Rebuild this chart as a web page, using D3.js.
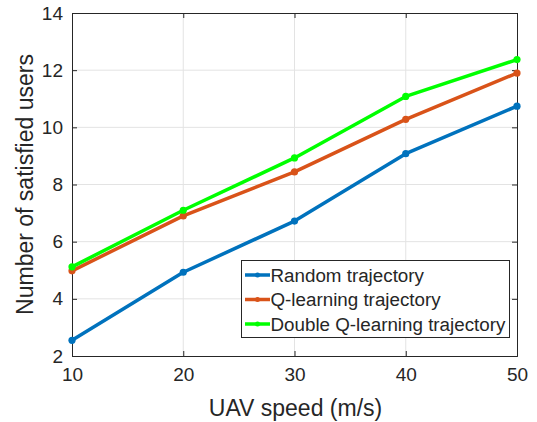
<!DOCTYPE html>
<html><head><meta charset="utf-8">
<script src="https://cdn.jsdelivr.net/npm/d3@7"></script>
<style>body{margin:0;background:#fff}svg{display:block}text{font-family:"Liberation Sans",Arial,Helvetica,sans-serif;fill:#262626}</style>
</head><body>
<svg id="c" width="537" height="422"></svg>
<script>
const speeds = [10, 20, 30, 40, 50];
const randomVals = [2.55, 4.93, 6.72, 9.08, 10.74];
const qVals = [4.98, 6.90, 8.44, 10.28, 11.90];
const dqVals = [5.12, 7.10, 8.93, 11.08, 12.37];
const seriesNames = ["Random trajectory", "Q-learning trajectory", "Double Q-learning trajectory"];
const seriesColors = ["#0072BD", "#D95319", "#00FF00"];
const xTicks = [10, 20, 30, 40, 50];
const yTicks = [2, 4, 6, 8, 10, 12, 14];

const svg = d3.select("#c");
const L = 72, R = 517, T = 13, B = 356;
const x = d3.scaleLinear().domain([10, 50]).range([L, R]);
const y = d3.scaleLinear().domain([2, 14]).range([B, T]);

// grid
const g = svg.append("g");
g.selectAll(".gx").data(xTicks.slice(1, -1)).enter().append("line")
  .attr("x1", d => x(d)).attr("x2", d => x(d)).attr("y1", T).attr("y2", B)
  .attr("stroke", "#e3e3e3").attr("stroke-width", 1);
g.selectAll(".gy").data(yTicks.slice(1, -1)).enter().append("line")
  .attr("y1", d => y(d)).attr("y2", d => y(d)).attr("x1", L).attr("x2", R)
  .attr("stroke", "#e3e3e3").attr("stroke-width", 1);

// axes
const ax = svg.append("g").attr("transform", `translate(0,${B})`)
  .call(d3.axisBottom(x).tickValues(xTicks).tickSize(-5).tickPadding(12));
const ay = svg.append("g").attr("transform", `translate(${L},0)`)
  .call(d3.axisLeft(y).tickValues(yTicks).tickSize(-5).tickPadding(9));
const axT = svg.append("g").attr("transform", `translate(0,${T})`)
  .call(d3.axisTop(x).tickValues(xTicks).tickSize(-5).tickFormat(""));
const ayR = svg.append("g").attr("transform", `translate(${R},0)`)
  .call(d3.axisRight(y).tickValues(yTicks).tickSize(-5).tickFormat(""));
[ax, ay, axT, ayR].forEach(a => {
  a.select(".domain").attr("stroke", "#262626").attr("stroke-width", 1);
  a.selectAll(".tick line").attr("stroke", "#262626");
  a.selectAll("text").style("font-size", "19px").attr("fill", "#262626");
});

// labels
svg.append("text").attr("x", (L + R) / 2 + 1).attr("y", 416).attr("text-anchor", "middle")
  .style("font-size", "23px").text("UAV speed (m/s)");
svg.append("text").attr("transform", `translate(33,${(T + B) / 2}) rotate(-90)`)
  .attr("text-anchor", "middle").style("font-size", "23px").text("Number of satisfied users");

// series
const all = [randomVals, qVals, dqVals];
const line = d3.line().x((d, i) => x(speeds[i])).y(d => y(d));
all.forEach((vals, k) => {
  svg.append("path").datum(vals).attr("d", line).attr("fill", "none")
    .attr("stroke", seriesColors[k]).attr("stroke-width", 3.5).attr("stroke-linejoin", "round");
  svg.selectAll(".m" + k).data(vals).enter().append("circle")
    .attr("cx", (d, i) => x(speeds[i])).attr("cy", d => y(d)).attr("r", 3.6)
    .attr("fill", seriesColors[k]);
});

// legend
const lg = svg.append("g");
lg.append("rect").attr("x", 241.5).attr("y", 260.5).attr("width", 268).attr("height", 77)
  .attr("fill", "#fff").attr("stroke", "#262626").attr("stroke-width", 1);
seriesNames.forEach((n, k) => {
  const yy = 275 + k * 24.5;
  lg.append("line").attr("x1", 245).attr("x2", 270).attr("y1", yy).attr("y2", yy)
    .attr("stroke", seriesColors[k]).attr("stroke-width", 3.5);
  lg.append("circle").attr("cx", 257.5).attr("cy", yy).attr("r", 2.5).attr("fill", seriesColors[k]);
  lg.append("text").attr("x", 270.5).attr("y", yy + 6.5).style("font-size", "18.8px").text(n);
});
</script>
</body></html>
